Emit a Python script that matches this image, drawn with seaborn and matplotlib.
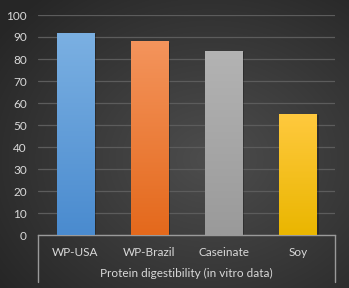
import numpy as np
import pandas as pd
import matplotlib
matplotlib.use("Agg")
import matplotlib.pyplot as plt
import matplotlib.colors as mcolors
from matplotlib.patches import Rectangle
import seaborn as sns

categories = ["WP-USA", "WP-Brazil", "Caseinate", "Soy"]
values = [92, 88, 83.6, 55]
y_ticks = [0, 10, 20, 30, 40, 50, 60, 70, 80, 90, 100]
axis_title = "Protein digestibility (in vitro data)"

top_colors = ["#7bb0e2", "#f4945c", "#b3b3b3", "#ffc93e"]
bottom_colors = ["#4a8bcf", "#e4691c", "#9a9a9a", "#eab600"]

sns.set_theme(style="dark")
plt.rcParams["font.family"] = ["Lato", "DejaVu Sans"]
text_color = "#d9d9d9"

W, H = 349, 288
fig = plt.figure(figsize=(W / 100, H / 100), dpi=100)

# radial background
bg = fig.add_axes([0, 0, 1, 1], zorder=-10)
yy, xx = np.mgrid[0:H, 0:W]
cx, cy = W * 0.6, H * 0.55
r = np.sqrt(((xx - cx) / (W * 0.75)) ** 2 + ((yy - cy) / (H * 0.75)) ** 2)
r = np.clip(r, 0, 1)
c_in = np.array(mcolors.to_rgb("#4d4d4d"))
c_out = np.array(mcolors.to_rgb("#262626"))
img = c_in[None, None, :] * (1 - r[..., None]) + c_out[None, None, :] * r[..., None]
bg.imshow(img, aspect="auto", extent=[0, 1, 0, 1])
bg.axis("off")

ax = fig.add_axes([38 / W, 1 - 235 / H, (335 - 38) / W, (235 - 15) / H])
ax.patch.set_alpha(0)

df = pd.DataFrame({"cat": categories, "val": values})
sns.barplot(data=df, x="cat", y="val", ax=ax, width=0.5, color="#888888",
            saturation=1, zorder=3)

ax.set_ylim(0, 100)
ax.set_xlim(-0.5, len(categories) - 0.5)
ax.set_yticks(y_ticks)
ax.set_yticklabels([str(t) for t in y_ticks])
ax.yaxis.grid(True, color="#5c5c5c", linewidth=0.9)
ax.xaxis.grid(False)
for s in ["top", "right", "left"]:
    ax.spines[s].set_visible(False)
ax.spines["bottom"].set_color("#9a9a9a")
ax.spines["bottom"].set_linewidth(1.0)
ax.tick_params(axis="y", colors=text_color, labelsize=8.5, length=0, pad=8)
ax.tick_params(axis="x", colors=text_color, labelsize=8.5, length=0, pad=9)
ax.set_xlabel("")
ax.set_ylabel("")

# gradients + shadow on bars
for i, p in enumerate(ax.patches):
    x0, y0 = p.get_x(), p.get_y()
    w, h = p.get_width(), p.get_height()
    sh = Rectangle((x0 + 0.03, y0), w, h - 0.6, facecolor="black", alpha=0.25,
                   edgecolor="none", zorder=2)
    ax.add_patch(sh)
    grad = np.linspace(0, 1, 100)[:, None]
    ct = np.array(mcolors.to_rgb(top_colors[i]))
    cb = np.array(mcolors.to_rgb(bottom_colors[i]))
    gimg = ct[None, None, :] * (1 - grad[..., None]) + cb[None, None, :] * grad[..., None]
    gimg = np.repeat(gimg, 2, axis=1)
    im = ax.imshow(gimg, extent=[x0, x0 + w, y0, y0 + h], aspect="auto",
                   zorder=4, origin="upper")
    im.set_clip_path(p)
    p.set_facecolor("none")
    p.set_edgecolor("none")
ax.set_xlim(-0.5, len(categories) - 0.5)
ax.set_ylim(0, 100)

# multi-level axis box lines
for xa in [0, 1]:
    ax.plot([xa, xa], [0, -(282 - 235) / (235 - 15)], transform=ax.transAxes,
            color="#9a9a9a", linewidth=1.0, clip_on=False)

fig.text((38 + 335) / 2 / W, 1 - 273 / H, axis_title, color=text_color,
         fontsize=8.5, ha="center", va="center")

fig.savefig("out.png", dpi=100)
